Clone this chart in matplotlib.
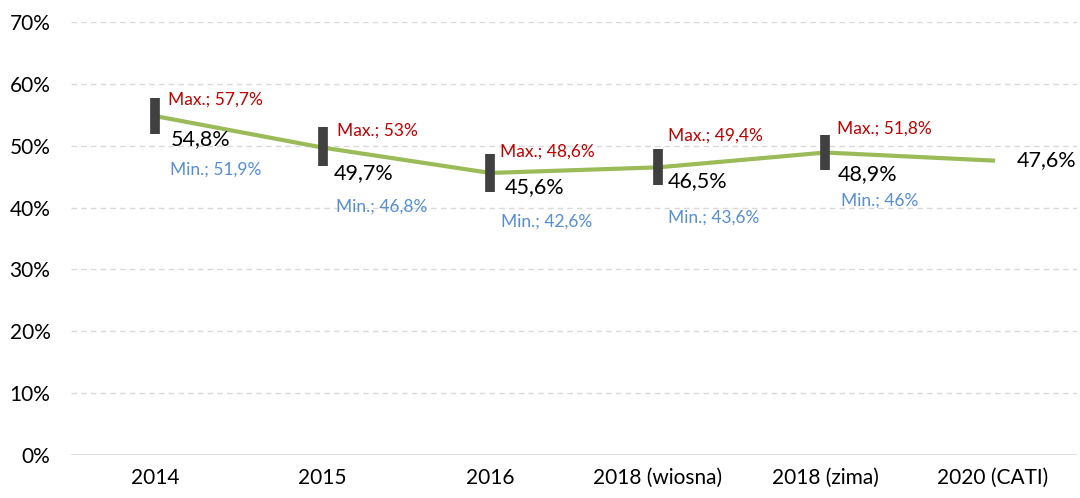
import matplotlib.pyplot as plt
import numpy as np

# Share of respondents per survey wave, with min/max range
categories = ["2014", "2015", "2016", "2018 (wiosna)", "2018 (zima)", "2020 (CATI)"]
values = [54.8, 49.7, 45.6, 46.5, 48.9, 47.6]
max_vals = [57.7, 53.0, 48.6, 49.4, 51.8, None]
min_vals = [51.9, 46.8, 42.6, 43.6, 46.0, None]

# label offsets in pixels (max, value, min)
max_off = [(13, 16), (14, 17), (10, 21), (10, 32), (12, 24)]
val_off = [(16, -23), (11, -26), (15, -14), (10, -14), (12, -22), (24, 0)]
min_off = [(15, -54), (13, -59), (11, -49), (10, -50), (16, -48)]


def pl(v):
    s = f"{v:.1f}".replace(".", ",")
    if s.endswith(",0"):
        s = s[:-2]
    return s


plt.rcParams['font.family'] = ['Lato', 'DejaVu Sans']

fig = plt.figure(figsize=(10.8, 4.98), dpi=100)
ax = fig.add_axes([0.066, 0.0863, 0.931, 0.8695])

x = np.arange(len(categories))

for y in range(10, 80, 10):
    ax.axhline(y, color="#D9D9D9", lw=1, ls=(0, (4, 3)), zorder=0)
ax.axhline(0, color="#D9D9D9", lw=1.2, zorder=0)

ax.plot(x, values, color="#9BBB59", lw=3, zorder=2)

for i in range(len(categories)):
    if max_vals[i] is not None:
        ax.plot([x[i], x[i]], [min_vals[i], max_vals[i]], color="#404040",
                lw=7, solid_capstyle="butt", zorder=3)
        ax.annotate(f"Max.; {pl(max_vals[i])}%", (x[i], values[i]),
                    xytext=max_off[i], textcoords="offset pixels",
                    color="#C00000", fontsize=12.5, ha="left", va="center")
        ax.annotate(f"Min.; {pl(min_vals[i])}%", (x[i], values[i]),
                    xytext=min_off[i], textcoords="offset pixels",
                    color="#558ED5", fontsize=12.5, ha="left", va="center")
    ax.annotate(f"{pl(values[i])}%", (x[i], values[i]),
                xytext=val_off[i], textcoords="offset pixels",
                color="black", fontsize=15.5, ha="left", va="center")

ax.set_xlim(-0.5, len(categories) - 0.5)
ax.set_ylim(0, 70)
ax.set_xticks(x)
ax.set_xticklabels(categories, fontsize=15)
ax.set_yticks(range(0, 80, 10))
ax.set_yticklabels([f"{t}%" for t in range(0, 80, 10)], fontsize=15)
ax.tick_params(length=0)
ax.tick_params(axis="x", pad=9)
ax.tick_params(axis="y", pad=15)
for s in ax.spines.values():
    s.set_visible(False)

fig.savefig("out.png", dpi=100)
